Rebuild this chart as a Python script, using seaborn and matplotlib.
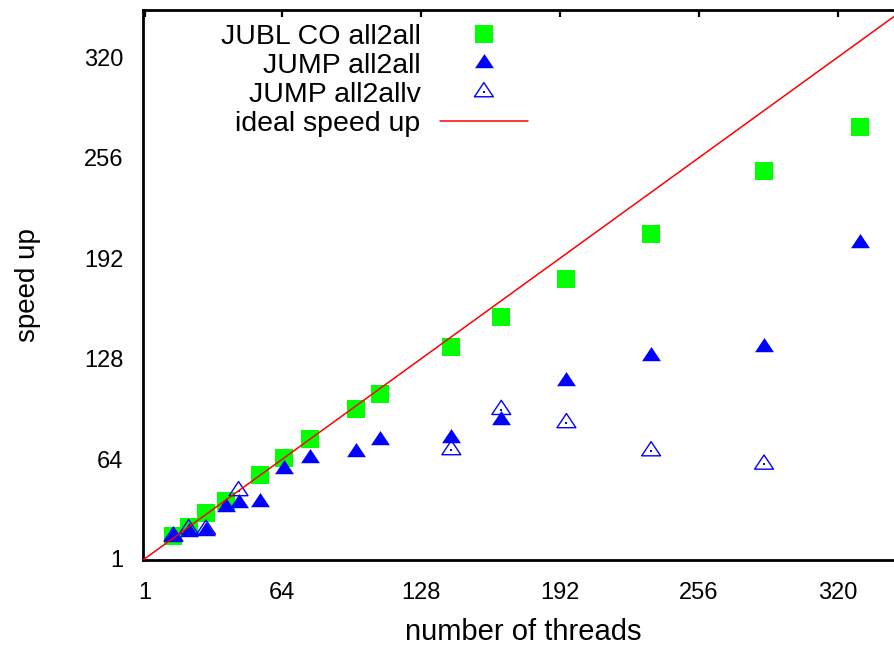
import matplotlib
matplotlib.use("Agg")
import matplotlib.pyplot as plt
import seaborn as sns
from matplotlib.path import Path
from matplotlib.legend_handler import HandlerTuple

# values
jubl_threads = [14, 21, 29, 38, 54, 65, 77, 98, 109, 142, 165, 195, 234, 286, 330]
jubl_speedup = [15.3, 21.2, 29.7, 37.5, 53.9, 64.7, 76.8, 95.9, 105.4, 135.3, 154.4, 178.8, 207.2, 247.3, 275.3]

jump_threads = [14, 21, 29, 38, 44, 54, 65, 77, 98, 109, 142, 165, 195, 234, 286, 330]
jump_speedup = [14.8, 18.0, 18.6, 33.9, 36.5, 37.2, 57.9, 64.9, 68.7, 76.3, 77.9, 89.4, 114.2, 130.1, 135.8, 201.7]

jumpv_threads = [14, 21, 29, 44, 142, 165, 195, 234, 286]
jumpv_speedup = [15.0, 19.7, 19.4, 43.9, 70.0, 95.6, 87.2, 69.3, 60.8]

ideal_threads = [0, 350]
ideal_speedup = [0, 350]

tick_values = [1, 64, 128, 192, 256, 320]
labels = ["JUBL CO all2all", "JUMP all2all", "JUMP all2allv", "ideal speed up"]

sns.set_style("white")
plt.rcParams["font.family"] = ["Liberation Sans", "DejaVu Sans"]
plt.rcParams["text.color"] = "black"
plt.rcParams["axes.labelcolor"] = "black"

# gnuplot style triangle, centred on its centroid
tri = Path([(0, 4 / 3), (-4 / 3, -2 / 3), (4 / 3, -2 / 3), (0, 4 / 3)], closed=True)

fig = plt.figure(figsize=(8.95, 6.46), dpi=100)
ax = fig.add_axes([143 / 895, 86 / 646, 760 / 895, 550 / 646])

sns.scatterplot(x=jubl_threads, y=jubl_speedup, marker="s", s=150, color="#00ff00",
                linewidth=0, legend=False, ax=ax, zorder=3)
sns.scatterplot(x=jump_threads, y=jump_speedup, marker=tri, s=185, color="#0000ff",
                linewidth=0, legend=False, ax=ax, zorder=4)
sns.scatterplot(x=jumpv_threads, y=jumpv_speedup, marker=tri, s=185, facecolor="none",
                edgecolor="#0000ff", linewidth=1.0, legend=False, ax=ax, zorder=5)
sns.scatterplot(x=jumpv_threads, y=jumpv_speedup, marker="s", s=2, color="#0000ff",
                linewidth=0, legend=False, ax=ax, zorder=5)
sns.lineplot(x=ideal_threads, y=ideal_speedup, color="#ff0000", linewidth=1.1, ax=ax, zorder=6)

ax.set_xlim(0, 350)
ax.set_ylim(0, 350)
ax.set_xticks(tick_values)
ax.set_yticks(tick_values)
ax.set_xticklabels([str(t) for t in tick_values])
ax.set_yticklabels([str(t) for t in tick_values])

for side in ["left", "right", "top", "bottom"]:
    ax.spines[side].set_visible(True)
    ax.spines[side].set_linewidth(2.0)
    ax.spines[side].set_color("black")

ax.tick_params(axis="both", which="both", direction="in", length=5, width=1.6,
               top=True, right=True, labelsize=17, colors="black")
ax.tick_params(axis="x", pad=16)
ax.tick_params(axis="y", pad=14)

ax.set_xlabel("number of threads", fontsize=21, labelpad=10, color="black")
ax.set_ylabel("speed up", fontsize=20, labelpad=31, color="black")

cols = ax.collections
handles = [cols[0], cols[1], (cols[2], cols[3]), ax.lines[0]]
leg = ax.legend(handles, labels, loc="upper right", bbox_to_anchor=(0.5066, 0.975),
                markerfirst=False, frameon=False, fontsize=20.5, borderpad=0,
                borderaxespad=0, handlelength=3.1, handletextpad=0.68,
                labelspacing=0.11, scatteryoffsets=[0.5],
                handler_map={tuple: HandlerTuple(ndivide=1)})
for t in leg.get_texts():
    t.set_color("black")

fig.savefig("out.png", dpi=100)
